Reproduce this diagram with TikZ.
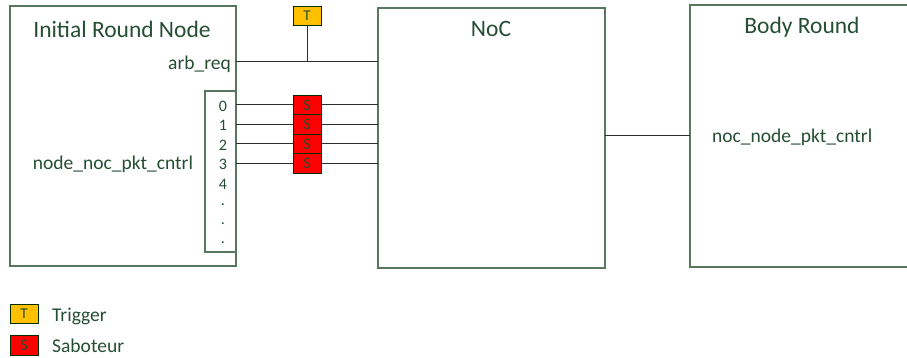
\documentclass[tikz,border=0pt]{standalone}
\usepackage{fontspec}
\setmainfont{Carlito}
\definecolor{txtgreen}{RGB}{38,78,52}
\definecolor{boxline}{RGB}{88,118,96}
\definecolor{trigfill}{RGB}{255,192,0}
\definecolor{sabfill}{RGB}{255,0,0}
\definecolor{wire}{RGB}{45,45,45}
\begin{document}
\begin{tikzpicture}[x=1pt,y=-1pt,
  bigbox/.style={draw=boxline,line width=1.2pt,fill=white},
  title/.style={text=txtgreen,font=\fontsize{23.5}{26}\selectfont,inner sep=0pt},
  lbl/.style={text=txtgreen,font=\fontsize{19.5}{22}\selectfont,inner sep=0pt},
  num/.style={text=txtgreen,font=\fontsize{16}{18}\selectfont,inner sep=0pt},
  trig/.style={draw=black!70!green!60!black,line width=0.9pt,fill=trigfill,minimum width=28pt,minimum height=19pt,inner sep=0pt,text=txtgreen,font=\fontsize{15}{17}\selectfont},
  sab/.style={draw=black!70!green!60!black,line width=0.9pt,fill=sabfill,minimum width=28pt,minimum height=19.3pt,inner sep=0pt,text=txtgreen,font=\fontsize{16}{18}\selectfont},
  wireline/.style={draw=wire,line width=1pt}]
\useasboundingbox (0,0) rectangle (907,358);
\clip (0,0) rectangle (907,358);
% boxes
\draw[bigbox] (10,6) rectangle (236,266);
\draw[bigbox] (205,91) rectangle (236,252);
\draw[bigbox] (378,8) rectangle (605,268);
\draw[bigbox] (690,5) rectangle (920,267);
% titles
\node[title] (irn) at (122,29) {Initial Round Node};
\node[title] (noc) at (491,29) {NoC};
\node[title] (body) at (802,27) {Body Round};
% labels
\node[lbl,anchor=east] (arb) at (231,64) {arb\_req};
\node[lbl] (nnpc) at (113,164) {node\_noc\_pkt\_cntrl};
\node[lbl,anchor=west] (onpc) at (712,137) {noc\_node\_pkt\_cntrl};
% port numbers
\foreach \n/\y in {0/106,1/125,2/145,3/164,4/184}{
  \node[num] (p\n) at (223,\y) {\n};
}
\foreach \i/\y in {1/205,2/224,3/243}{
  \node[num] (d\i) at (223,\y) {.};
}
% arb_req wire with trigger
\coordinate (arbA) at (236,62);
\coordinate (arbB) at (378,62);
\coordinate (arbT) at (307,62);
\draw[wireline] (arbA) -- (arbB);
\node[trig] (T) at (307,15.5) {T};
\draw[wireline] (T.south) -- (arbT);
% saboteur wires
\foreach \k/\y in {0/105,1/124.5,2/144,3/163.5}{
  \coordinate (sa\k) at (236,\y);
  \coordinate (sb\k) at (378,\y);
  \draw[wireline] (sa\k) -- (sb\k);
  \node[sab] (S\k) at (307,\y) {S};
}
% NoC to Body Round
\coordinate (nb1) at (605,136);
\coordinate (nb2) at (690,136);
\draw[wireline] (nb1) -- (nb2);
% legend
\node[trig] (LT) at (24,313.5) {T};
\node[lbl,anchor=west] (LTt) at (52,316) {Trigger};
\node[sab] (LS) at (24,345.5) {S};
\node[lbl,anchor=west] (LSt) at (52,346) {Saboteur};
\end{tikzpicture}
\end{document}
